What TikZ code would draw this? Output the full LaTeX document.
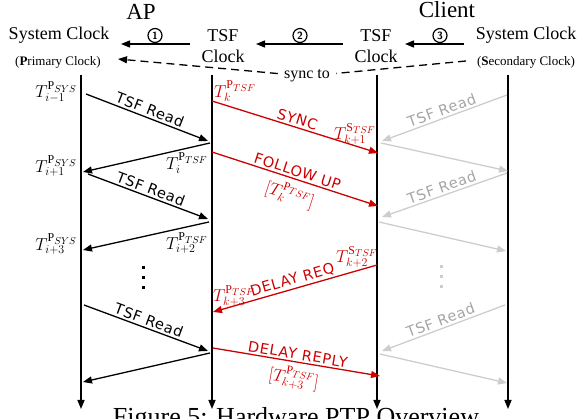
\documentclass[tikz,border=0pt]{standalone}
\usepackage{fontspec}
\setmainfont{Liberation Serif}
\newfontfamily\msgfont[LetterSpace=5]{DejaVu Sans}
\DeclareMathSizes{16}{16}{12}{10}
\usetikzlibrary{arrows.meta}
\definecolor{cRed}{RGB}{204,0,0}
\definecolor{cGry}{RGB}{205,205,205}
\definecolor{cGryT}{RGB}{165,165,165}

\begin{document}
\begin{tikzpicture}[
  x=1pt, y=-1pt,
  title/.style = {font=\fontsize{23}{26}\selectfont, anchor=base, inner sep=0pt},
  hdr/.style   = {font=\fontsize{18}{21}\selectfont, align=center, inner sep=0pt},
  role/.style  = {font=\fontsize{13}{15}\selectfont, anchor=base, inner sep=0pt},
  num/.style   = {draw, circle, line width=1.2pt, inner sep=0pt, minimum size=14pt,
                  font=\fontsize{10.5}{10.5}\sffamily\bfseries},
  life/.style  = {line width=1.5pt, -{Triangle[length=9pt, width=7pt]}},
  msg/.style   = {line width=1.3pt, -{Triangle[length=9pt, width=7pt]}},
  hmsg/.style  = {msg, cRed},
  gmsg/.style  = {msg, cGry},
  lbl/.style   = {font=\fontsize{14.5}{16}\msgfont, sloped, above, inner sep=2pt},
  ts/.style    = {font=\fontsize{16}{18}\selectfont, inner sep=0pt},
  vdot/.style  = {fill, minimum size=3pt, inner sep=0pt}
]
\useasboundingbox (0,0) rectangle (579,419);

% ---------------------------------------------------------------- intestazioni --
\node[title] (ap) at (141,20) {AP};
\node[title] (cl) at (447,18) {Client};
\node[hdr, anchor=base] (apsys) at (59,40) {System Clock};
\node[role]             (aprole) at (58,66) {(\textbf{P}rimary Clock)};
\node[hdr]              (aptsf) at (223,46) {TSF\\Clock};
\node[hdr]              (cltsf) at (376,46) {TSF\\Clock};
\node[hdr, anchor=base] (clsys) at (526,40) {System Clock};
\node[role]             (clrole) at (526,66) {(\textbf{S}econdary Clock)};

% catena di lettura: 3 -> 2 -> 1
\coordinate (h1s) at (190,44);  \coordinate (h1e) at (121,44);
\coordinate (h2s) at (343,44);  \coordinate (h2e) at (256,44);
\coordinate (h3s) at (464,44);  \coordinate (h3e) at (405,44);
\draw[msg] (h1s) -- (h1e);
\draw[msg] (h2s) -- (h2e);
\draw[msg] (h3s) -- (h3e);
\node[num] (n1) at (155,35.5) {1};
\node[num] (n2) at (300,35.5) {2};
\node[num] (n3) at (440,35.5) {3};

% sincronizzazione tratteggiata
\node[font=\fontsize{16}{18}\selectfont, anchor=base, inner xsep=6pt, inner ysep=2pt] (sync) at (307,79) {sync to};
\coordinate (ds) at (466,61);
\coordinate (de) at (118,59);
\draw[line width=1.3pt, dash pattern=on 8pt off 5pt, -{Triangle[length=9pt, width=7pt]}]
  (ds) -- (sync) -- (de);

% ----------------------------------------------------------------- linee vita --
\coordinate (apS-top) at (81,75);   \coordinate (apS-bot) at (81,409);
\coordinate (apT-top) at (212,75);  \coordinate (apT-bot) at (212,409);
\coordinate (clT-top) at (377,75);  \coordinate (clT-bot) at (377,409);
\coordinate (clS-top) at (508,75);  \coordinate (clS-bot) at (508,409);
\draw[life] (apS-top) -- (apS-bot);
\draw[life] (apT-top) -- (apT-bot);
\draw[life] (clT-top) -- (clT-bot);
\draw[life] (clS-top) -- (clS-bot);

% ------------------------------------------------------- letture TSF (AP) --
\coordinate (a1s) at (86,94);   \coordinate (a1e) at (208,141);
\coordinate (a2s) at (210,143); \coordinate (a2e) at (83,172);
\coordinate (a3s) at (88,174);  \coordinate (a3e) at (208,219);
\coordinate (a4s) at (209,222); \coordinate (a4e) at (83,250);
\coordinate (a5s) at (84,305);  \coordinate (a5e) at (208,351);
\coordinate (a6s) at (210,353); \coordinate (a6e) at (83,382);
\draw[msg] (a1s) -- (a1e) node[lbl, midway] {TSF Read};
\draw[msg] (a2s) -- (a2e);
\draw[msg] (a3s) -- (a3e) node[lbl, midway] {TSF Read};
\draw[msg] (a4s) -- (a4e);
\draw[msg] (a5s) -- (a5e) node[lbl, midway] {TSF Read};
\draw[msg] (a6s) -- (a6e);

\node[ts, anchor=east] (tp1) at (77,92)  {$T^{\mathrm{P}_{SYS}}_{i-1}$};
\node[ts, anchor=east] (tp2) at (77,166) {$T^{\mathrm{P}_{SYS}}_{i+1}$};
\node[ts, anchor=east] (tp3) at (77,244) {$T^{\mathrm{P}_{SYS}}_{i+3}$};
\node[ts, anchor=east] (tt1) at (208,163) {$T^{\mathrm{P}_{TSF}}_{i}$};
\node[ts, anchor=east] (tt2) at (208,243) {$T^{\mathrm{P}_{TSF}}_{i+2}$};

\node[vdot] (vd1) at (143,268) {};
\node[vdot] (vd2) at (143,278) {};
\node[vdot] (vd3) at (143,288) {};

% ------------------------------------------------------------ messaggi PTP --
\coordinate (s1s) at (212,101); \coordinate (s1e) at (378,153);
\coordinate (f1s) at (212,152); \coordinate (f1e) at (378,206);
\coordinate (q1s) at (377,265); \coordinate (q1e) at (213,312);
\coordinate (r1s) at (213,348); \coordinate (r1e) at (380,376);
\draw[hmsg] (s1s) -- (s1e) node[lbl, midway, text=cRed] {SYNC};
\draw[hmsg] (f1s) -- (f1e) node[lbl, midway, text=cRed] {FOLLOW UP}
  node[ts, midway, sloped, below=5pt, text=cRed] {$[T^{\mathrm{P}_{TSF}}_{k}]$};
\draw[hmsg] (q1s) -- (q1e) node[lbl, midway, text=cRed] {DELAY REQ};
\draw[hmsg] (r1s) -- (r1e) node[lbl, midway, text=cRed] {DELAY REPLY}
  node[ts, midway, sloped, below=5pt, text=cRed] {$[T^{\mathrm{P}_{TSF}}_{k+3}]$};

\node[ts, anchor=west, text=cRed] (tk0) at (214,91)  {$T^{\mathrm{P}_{TSF}}_{k}$};
\node[ts, anchor=east, text=cRed] (tk1) at (376,134) {$T^{\mathrm{S}_{TSF}}_{k+1}$};
\node[ts, anchor=east, text=cRed] (tk2) at (378,257) {$T^{\mathrm{S}_{TSF}}_{k+2}$};
\node[ts, anchor=west, text=cRed] (tk3) at (213,296) {$T^{\mathrm{P}_{TSF}}_{k+3}$};

% --------------------------------------------------- letture TSF (client) --
\coordinate (c1s) at (507,95);  \coordinate (c1e) at (382,141);
\coordinate (c2s) at (381,143); \coordinate (c2e) at (508,171);
\coordinate (c3s) at (507,173); \coordinate (c3e) at (382,217);
\coordinate (c4s) at (379,222); \coordinate (c4e) at (506,251);
\coordinate (c5s) at (505,305); \coordinate (c5e) at (382,351);
\coordinate (c6s) at (380,354); \coordinate (c6e) at (507,383);
\draw[gmsg] (c1s) -- (c1e) node[lbl, midway, text=cGryT] {TSF Read};
\draw[gmsg] (c2s) -- (c2e);
\draw[gmsg] (c3s) -- (c3e) node[lbl, midway, text=cGryT] {TSF Read};
\draw[gmsg] (c4s) -- (c4e);
\draw[gmsg] (c5s) -- (c5e) node[lbl, midway, text=cGryT] {TSF Read};
\draw[gmsg] (c6s) -- (c6e);

\node[vdot, cGry] (gd1) at (441,267) {};
\node[vdot, cGry] (gd2) at (441,277) {};
\node[vdot, cGry] (gd3) at (441,287) {};

% -------------------------------------------------------------- didascalia --
\node[font=\fontsize{26}{30}\selectfont, anchor=base] (cap) at (296,426) {Figure 5: Hardware PTP Overview};

\end{tikzpicture}
\end{document}
